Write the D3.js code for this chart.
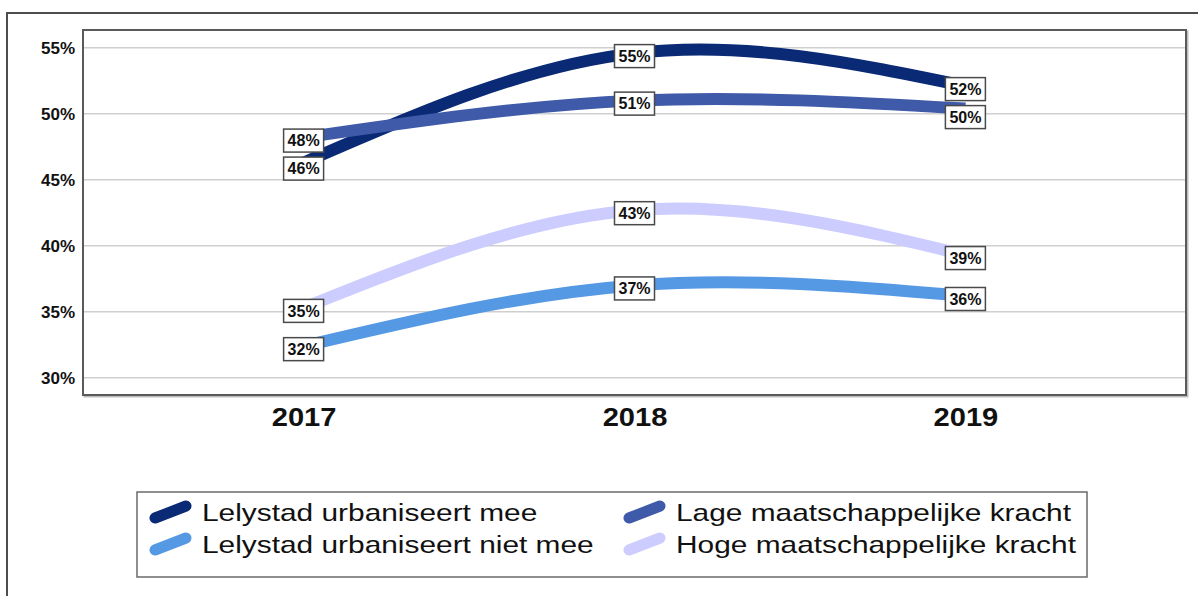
<!DOCTYPE html>
<html>
<head>
<meta charset="utf-8">
<script src="https://cdn.jsdelivr.net/npm/d3@7"></script>
<style>
  html, body { margin: 0; padding: 0; background: #fff; }
</style>
</head>
<body>
<div id="chart"></div>
<script>
// data
const years = ["2017", "2018", "2019"];
const seriesNames = [
  "Lelystad urbaniseert mee",
  "Lage maatschappelijke kracht",
  "Lelystad urbaniseert niet mee",
  "Hoge maatschappelijke kracht"
];
const urbaniseertMee = [46.3, 54.6, 52.1];
const lageKracht = [48.2, 51.0, 50.4];
const urbaniseertNietMee = [32.4, 37.0, 36.2];
const hogeKracht = [35.3, 42.7, 39.3];
const yTicks = [30, 35, 40, 45, 50, 55];
const seriesColors = ["#0b2a75", "#3e5aa8", "#5598e4", "#ccccff"];

// legend order as in the reference (two columns)
const legendOrder = [0, 2, 1, 3];

const attrs = {
  svgWidth: 1198,
  svgHeight: 596,
  plotLeft: 83,
  plotTop: 30,
  plotRight: 1186,
  plotBottom: 395,
  yDomain: [28.7, 56.35],
  lineWidth: 12,
  font: "Liberation Sans, Arial, sans-serif"
};

const seriesValues = [urbaniseertMee, lageKracht, urbaniseertNietMee, hogeKracht];
const series = seriesNames.map((name, i) => ({
  name,
  color: seriesColors[i],
  values: years.map((y, j) => ({ year: y, value: seriesValues[i][j] }))
}));

const svg = d3.select("#chart").append("svg")
  .attr("width", attrs.svgWidth)
  .attr("height", attrs.svgHeight)
  .attr("font-family", attrs.font);

// outer frame (top + left edge)
svg.append("path")
  .attr("d", `M7,${attrs.svgHeight} V13 H${attrs.svgWidth}`)
  .attr("fill", "none")
  .attr("stroke", "#4d4d4d")
  .attr("stroke-width", 2);

const x = d3.scalePoint()
  .domain(years)
  .range([attrs.plotLeft, attrs.plotRight])
  .padding(2 / 3);

const y = d3.scaleLinear()
  .domain(attrs.yDomain)
  .range([attrs.plotBottom, attrs.plotTop]);

// plot background + frame (with a light shadow edge)
svg.append("rect")
  .attr("x", attrs.plotLeft + 1.5)
  .attr("y", attrs.plotTop + 1.5)
  .attr("width", attrs.plotRight - attrs.plotLeft)
  .attr("height", attrs.plotBottom - attrs.plotTop)
  .attr("fill", "none")
  .attr("stroke", "#bdbdbd")
  .attr("stroke-width", 2);

svg.append("rect")
  .attr("x", attrs.plotLeft)
  .attr("y", attrs.plotTop)
  .attr("width", attrs.plotRight - attrs.plotLeft)
  .attr("height", attrs.plotBottom - attrs.plotTop)
  .attr("fill", "#fff")
  .attr("stroke", "#5a5a5a")
  .attr("stroke-width", 2);

// gridlines
svg.append("g")
  .selectAll("line")
  .data(yTicks)
  .join("line")
  .attr("x1", attrs.plotLeft + 1)
  .attr("x2", attrs.plotRight - 1)
  .attr("y1", d => y(d))
  .attr("y2", d => y(d))
  .attr("stroke", "#cfcfcf")
  .attr("stroke-width", 1.5);

// y axis
const yAxis = svg.append("g")
  .attr("transform", `translate(${attrs.plotLeft},0)`)
  .call(d3.axisLeft(y).tickValues(yTicks).tickFormat(d => d + "%").tickSize(0).tickPadding(8));
yAxis.select(".domain").remove();
yAxis.selectAll("text")
  .attr("font-family", attrs.font)
  .attr("font-size", 17)
  .attr("font-weight", "bold")
  .attr("fill", "#111");

// x axis
const xAxis = svg.append("g")
  .attr("transform", `translate(0,${attrs.plotBottom})`)
  .call(d3.axisBottom(x).tickSize(0).tickPadding(0));
xAxis.select(".domain").remove();
xAxis.selectAll("text")
  .attr("font-family", attrs.font)
  .attr("font-size", 26)
  .attr("font-weight", "bold")
  .attr("fill", "#111")
  .attr("y", 0)
  .attr("dy", 0)
  .attr("transform", "translate(0,31) scale(1.12,1)");

// lines
const line = d3.line()
  .x(d => x(d.year))
  .y(d => y(d.value))
  .curve(d3.curveNatural);

svg.append("g")
  .selectAll("path")
  .data(series)
  .join("path")
  .attr("d", d => line(d.values))
  .attr("fill", "none")
  .attr("stroke", d => d.color)
  .attr("stroke-width", attrs.lineWidth)
  .attr("stroke-linecap", "butt");

// data labels, pushed apart per year when they overlap
const labels = [];
series.forEach(s => s.values.forEach(v => labels.push({
  year: v.year,
  value: v.value,
  cx: x(v.year),
  cy: y(v.value) + 3
})));
years.forEach(yr => {
  const group = labels.filter(l => l.year === yr).sort((a, b) => a.cy - b.cy);
  for (let i = 1; i < group.length; i++) {
    const minGap = 28;
    if (group[i].cy - group[i - 1].cy < minGap) {
      group[i].cy = group[i - 1].cy + minGap;
    }
  }
});

const labelG = svg.append("g")
  .selectAll("g")
  .data(labels)
  .join("g")
  .attr("transform", d => `translate(${d.cx},${d.cy})`);

labelG.append("rect")
  .attr("x", -20)
  .attr("y", -11.5)
  .attr("width", 40)
  .attr("height", 23)
  .attr("fill", "#fff")
  .attr("stroke", "#4a4a4a")
  .attr("stroke-width", 1.5);

labelG.append("text")
  .attr("text-anchor", "middle")
  .attr("dy", "0.36em")
  .attr("font-family", attrs.font)
  .attr("font-size", 16)
  .attr("font-weight", "bold")
  .attr("fill", "#111")
  .text(d => d3.format(".0f")(d.value) + "%");

// legend
const legend = svg.append("g");
legend.append("rect")
  .attr("x", 137)
  .attr("y", 492)
  .attr("width", 950)
  .attr("height", 85)
  .attr("fill", "#fff")
  .attr("stroke", "#6a6a6a")
  .attr("stroke-width", 1.5);

const legendItems = legend.selectAll("g.item")
  .data(legendOrder.map(i => series[i]))
  .join("g")
  .attr("class", "item")
  .attr("transform", (d, i) => `translate(${i < 2 ? 150 : 624},${512 + (i % 2) * 32})`);

legendItems.append("line")
  .attr("x1", 5)
  .attr("y1", 6)
  .attr("x2", 36)
  .attr("y2", -6)
  .attr("stroke", d => d.color)
  .attr("stroke-width", 11)
  .attr("stroke-linecap", "round");

legendItems.append("text")
  .attr("transform", "translate(52,9) scale(1.245,1)")
  .attr("font-size", 24)
  .attr("fill", "#111")
  .text(d => d.name);
</script>
</body>
</html>
